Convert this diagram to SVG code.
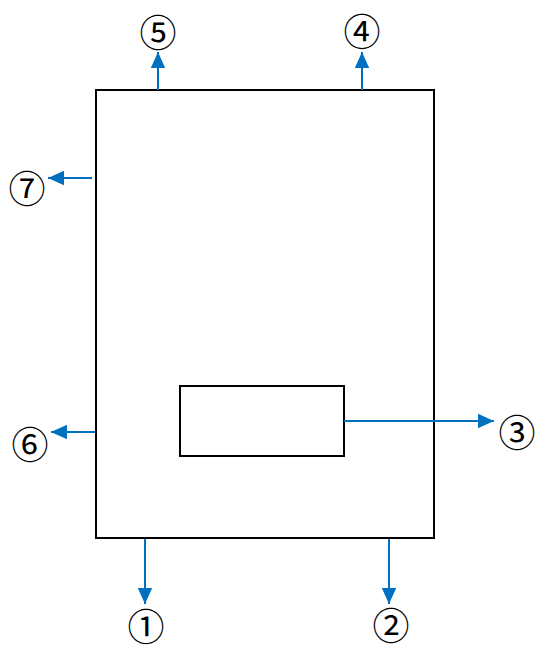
<svg xmlns="http://www.w3.org/2000/svg" width="536" height="650" viewBox="0 0 536 650">
<style>
.box{fill:#fff;stroke:#000;stroke-width:2}
.conn{stroke:#0070c0;stroke-width:2;fill:none}
.lbl{font-family:"Liberation Serif","DejaVu Serif","Noto Sans CJK SC",serif;font-size:37px;fill:#000;text-anchor:middle}
</style>
<defs>
<marker id="a" viewBox="0 0 10 10" refX="10" refY="5" markerWidth="16" markerHeight="16" orient="auto" markerUnits="userSpaceOnUse">
<path d="M0,0.5 L10,5 L0,9.5 z" fill="#0070c0"/>
</marker>
</defs>
<g id="main"><rect class="box" x="96" y="90" width="338" height="448"/></g>
<g id="inner"><rect class="box" x="180" y="386" width="164" height="70"/></g>
<g id="connectors">
<line class="conn" x1="158" y1="90" x2="158" y2="52" marker-end="url(#a)"/>
<line class="conn" x1="362" y1="90" x2="362" y2="52" marker-end="url(#a)"/>
<line class="conn" x1="92" y1="178" x2="48" y2="178" marker-end="url(#a)"/>
<line class="conn" x1="95" y1="432" x2="51" y2="432" marker-end="url(#a)"/>
<line class="conn" x1="344" y1="421" x2="494" y2="421" marker-end="url(#a)"/>
<line class="conn" x1="145" y1="539" x2="145" y2="604" marker-end="url(#a)"/>
<line class="conn" x1="389" y1="539" x2="389" y2="604" marker-end="url(#a)"/>
</g>
<g id="labels">
<text class="lbl" x="158" y="47">⑤</text>
<text class="lbl" x="362" y="46">④</text>
<text class="lbl" x="27" y="203">⑦</text>
<text class="lbl" x="30" y="459">⑥</text>
<text class="lbl" x="517" y="447">③</text>
<text class="lbl" x="146" y="641">①</text>
<text class="lbl" x="391" y="640">②</text>
</g>
</svg>
